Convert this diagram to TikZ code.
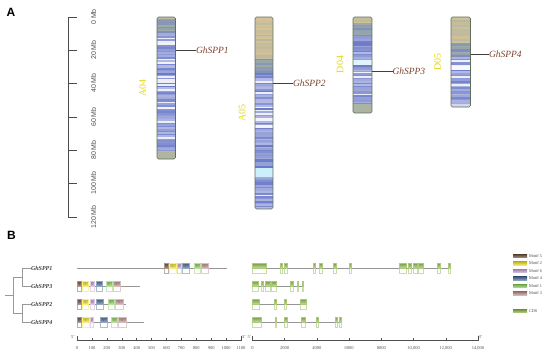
\documentclass[tikz,border=0pt]{standalone}
\usepackage{fontspec}
\setmainfont{Liberation Serif}
\setsansfont{Liberation Sans}
\definecolor{chrblue}{RGB}{105,120,200}
\definecolor{chrtan}{RGB}{215,195,150}
\definecolor{chrsage}{RGB}{160,175,165}
\definecolor{chrout}{RGB}{95,110,95}
\definecolor{genelbl}{RGB}{125,65,45}
\definecolor{chrlbl}{RGB}{228,215,25}
\definecolor{mfive}{RGB}{110,80,60}
\definecolor{mtwo}{RGB}{240,228,40}
\definecolor{msix}{RGB}{200,160,215}
\definecolor{mfour}{RGB}{75,110,150}
\definecolor{mone}{RGB}{140,205,90}
\definecolor{mthree}{RGB}{190,145,145}
\definecolor{cdsg}{RGB}{135,180,65}
\definecolor{axgray}{RGB}{80,80,80}
\definecolor{lngray}{RGB}{150,150,150}
\newcommand\chrom[7]{%
  \begin{scope}
  \clip[rounded corners=1.5pt] (#1,#3) rectangle (#2,#4);
  \fill[chrblue!70!white] (#1,#3) rectangle (#2,#4);
  \pgfmathsetseed{#6}
  \pgfmathtruncatemacro\nb{(#4-#3)/1.6}
  \foreach \i in {0,...,\nb}{
    \pgfmathsetmacro\ya{#3+\i*1.6}
    \pgfmathsetmacro\yb{\ya+1.7}
    \pgfmathtruncatemacro\pp{rnd<0.08 ? 12 : 50+50*rnd}
    \pgfmathtruncatemacro\qq{40+60*rnd}
    \pgfmathsetmacro\ye{#5+14}
    \ifdim\ya pt<#5pt
      \fill[chrtan!\qq!chrsage] (#1,\ya) rectangle (#2,\yb);
    \else
      \ifdim\ya pt<\ye pt
        \fill[chrsage!\qq!chrblue] (#1,\ya) rectangle (#2,\yb);
      \else
        \fill[chrblue!\pp!white] (#1,\ya) rectangle (#2,\yb);
      \fi
    \fi
  }
  #7
  \end{scope}
  \draw[chrout, line width=0.6pt, rounded corners=1.5pt] (#1,#3) rectangle (#2,#4);
}
\newcommand\motifbox[5]{%
  \filldraw[fill=white, draw=#4!45!white, line width=0.3pt] (#1,#3+0.5) rectangle (#2,#3+5.5);
  \shade[top color=#4!80!black, bottom color=#4!55!white] (#1,#3-5) rectangle (#2,#3+0.5);
  \draw[#4!60!white, line width=0.3pt] (#1,#3-5) rectangle (#2,#3+0.5);
  \node[font=\fontsize{2.5}{3}\selectfont, text=black!70] at ({(#1+#2)/2},#3-1.5) {#5};
}
\newcommand\exonbox[3]{%
  \filldraw[fill=white, draw=cdsg!45!white, line width=0.3pt] (#1,#3+0.5) rectangle (#2,#3+5.5);
  \shade[top color=cdsg!85!black, bottom color=cdsg!40!white] (#1,#3-5) rectangle (#2,#3+0.5);
  \draw[cdsg!70!white, line width=0.3pt] (#1,#3-5) rectangle (#2,#3+0.5);
}
\begin{document}
\begin{tikzpicture}[x=1pt,y=-1pt,
  every node/.style={inner sep=0pt, outer sep=0pt},
  panel/.style={font=\sffamily\bfseries\fontsize{12}{14}\selectfont},
  scalelab/.style={font=\sffamily\fontsize{7}{8}\selectfont, text=axgray, rotate=90},
  chrlab/.style={font=\fontsize{10}{12}\selectfont, text=chrlbl, rotate=90},
  genelab/.style={font=\itshape\fontsize{9.5}{11}\selectfont, text=genelbl, anchor=west},
  geneline/.style={draw=black!75, line width=0.5pt},
  treeline/.style={draw=black!40, line width=0.6pt},
  leaflab/.style={font=\bfseries\itshape\fontsize{6}{7}\selectfont, text=black!75, anchor=west},
  seqline/.style={draw=lngray, line width=0.7pt},
  axisline/.style={draw=axgray, line width=0.45pt},
  ticklab/.style={font=\fontsize{4.5}{5}\selectfont, text=axgray},
  leglab/.style={font=\fontsize{4.3}{5}\selectfont, text=axgray, anchor=west}]
\useasboundingbox (0,0) rectangle (550,357);
% ---------- Panel A ----------
\node[panel] (pA) at (11,12.5) {A};
\draw[axisline, draw=black!70, line width=0.6pt] (68,17) -- (68,217);
\foreach \t/\l [count=\k] in {17/0 Mb,50/20 Mb,83/40 Mb,117/60 Mb,150/80 Mb,183/100 Mb,217/120 Mb}{
  \draw[draw=black!70, line width=0.6pt] (68,\t) -- (77,\t);
  \node[scalelab] (sc\k) at (93.5,\t) {\l};
}
% chromosomes
\chrom{157}{175.5}{17}{159}{18}{11}{%
  \fill[chrsage!70!chrtan] (157,152) rectangle (175.5,159);
  \fill[chrblue!10!white] (157,43) rectangle (175.5,45);
  \fill[chrblue!10!white] (157,62) rectangle (175.5,64);
  \fill[chrblue!10!white] (157,107) rectangle (175.5,108.5);
}
\chrom{255}{273}{17}{209}{58}{23}{%
  \fill[chrblue!8!white] (255,118) rectangle (273,121);
  \fill[chrblue!8!white] (255,125) rectangle (273,127.5);
  \fill[cyan!20!white] (255,168) rectangle (273,177);
  \fill[chrblue!70!white] (255,162) rectangle (273,166);
}
\chrom{353}{372}{17}{113}{22}{37}{%
  \fill[cyan!12!white] (353,60) rectangle (372,65);
  \fill[chrblue!8!white] (353,71.5) rectangle (372,73);
  \fill[chrsage!80!chrtan] (353,104) rectangle (372,113);
}
\chrom{451}{470.5}{17}{107}{42}{41}{%
  \fill[chrblue!5!white] (451,66) rectangle (470.5,70);
  \fill[chrblue!30!white] (451,104) rectangle (470.5,107);
}
% chromosome labels
\node[chrlab] (cA04) at (142.5,88) {A04};
\node[chrlab] (cA05) at (242,113) {A05};
\node[chrlab] (cD04) at (340,64.5) {D04};
\node[chrlab] (cD05) at (437.5,62) {D05};
% gene labels
\coordinate (p1) at (175.5,50);
\coordinate (p2) at (273,83);
\coordinate (p3) at (372,71);
\coordinate (p4) at (470.5,54.5);
\node[genelab] (g1) at (196,50) {GhSPP1};
\node[genelab] (g2) at (293,83) {GhSPP2};
\node[genelab] (g3) at (392.5,71) {GhSPP3};
\node[genelab] (g4) at (489,54.5) {GhSPP4};
\draw[geneline] (p1) -- (g1.west);
\draw[geneline] (p2) -- (g2.west);
\draw[geneline] (p3) -- (g3.west);
\draw[geneline] (p4) -- (g4.west);
% ---------- Panel B ----------
\node[panel] (pB) at (11.5,235) {B};
% tree
\coordinate (root) at (5,295);
\coordinate (n0) at (13,295);
\coordinate (na) at (13,277);
\coordinate (nb) at (13,313);
\coordinate (a1) at (22,277);
\coordinate (b1) at (22,313);
\node[leaflab] (t1) at (31,268) {GhSPP1};
\node[leaflab] (t3) at (31,286) {GhSPP3};
\node[leaflab] (t2) at (31,304) {GhSPP2};
\node[leaflab] (t4) at (31,322) {GhSPP4};
\draw[treeline] (root) -- (n0);
\draw[treeline] (na) -- (nb);
\draw[treeline] (na) -- (a1);
\draw[treeline] (nb) -- (b1);
\draw[treeline] (22,268) -- (22,286);
\draw[treeline] (22,304) -- (22,322);
\draw[treeline] (22,268) -- (t1.west);
\draw[treeline] (22,286) -- (t3.west);
\draw[treeline] (22,304) -- (t2.west);
\draw[treeline] (22,322) -- (t4.west);
% protein lines
\draw[seqline] (77,268) -- (227,268);
\draw[seqline] (77,286) -- (140,286);
\draw[seqline] (77,304) -- (126,304);
\draw[seqline] (77,322) -- (144,322);
% motifs SPP1
\motifbox{164}{168.5}{268}{mfive}{5}
\motifbox{169}{176}{268}{mtwo}{2}
\motifbox{177}{181}{268}{msix}{6}
\motifbox{182}{189}{268}{mfour}{4}
\motifbox{194}{200}{268}{mone}{1}
\motifbox{201}{208}{268}{mthree}{3}
% SPP3
\motifbox{77}{81.5}{286}{mfive}{5}
\motifbox{82}{88.5}{286}{mtwo}{2}
\motifbox{90}{94}{286}{msix}{6}
\motifbox{96}{102.5}{286}{mfour}{4}
\motifbox{106}{112}{286}{mone}{1}
\motifbox{113}{120}{286}{mthree}{3}
% SPP2
\motifbox{77}{81.5}{304}{mfive}{5}
\motifbox{82}{88.5}{304}{mtwo}{2}
\motifbox{90}{94}{304}{msix}{6}
\motifbox{96}{103}{304}{mfour}{4}
\motifbox{108}{114}{304}{mone}{1}
\motifbox{115}{123}{304}{mthree}{3}
% SPP4
\motifbox{77}{81.5}{322}{mfive}{5}
\motifbox{82}{89}{322}{mtwo}{2}
\motifbox{90}{93.5}{322}{msix}{6}
\motifbox{100}{107}{322}{mfour}{4}
\motifbox{111}{117.5}{322}{mone}{1}
\motifbox{118}{126}{322}{mthree}{3}
% gene lines
\draw[seqline] (252.5,268) -- (450,268);
\draw[seqline] (252.5,286) -- (303.5,286);
\draw[seqline] (252.5,304) -- (306,304);
\draw[seqline] (252.5,322) -- (341,322);
\foreach \a/\b in {252.5/266,280/282.5,284/287,313/315,319/322,333/336.5,349/351,399/406,408/411,413/417,418/423,437/440,448/450}{\exonbox{\a}{\b}{268}}
\foreach \a/\b in {252.5/258.5,261/263,265.5/270,271/276,290/293,297/298.5,302/303.5}{\exonbox{\a}{\b}{286}}
\foreach \a/\b in {252.5/259,274/276,284/286.5,300/306}{\exonbox{\a}{\b}{304}}
\foreach \a/\b in {252.5/261,275/276.5,284/287,301/305,316/318.5,335/337,339/341}{\exonbox{\a}{\b}{322}}
% protein axis
\draw[axisline] (77,340) -- (241,340);
\draw[axisline] (77,336) -- (77,341);
\draw[axisline] (241,336) -- (241,341);
\foreach \i in {0,...,11}{
  \pgfmathsetmacro\xx{77+\i*14.909}
  \pgfmathtruncatemacro\vv{\i*100}
  \draw[axisline] (\xx,337.5) -- (\xx,340);
  \node[ticklab] (pt\i) at (\xx,348.5) {\vv};
}
\node[ticklab] (p5) at (73,337.5) {5'};
\node[ticklab] (p3e) at (244,337.5) {3'};
% gene axis
\draw[axisline] (252.5,340) -- (478,340);
\draw[axisline] (252.5,336) -- (252.5,341);
\draw[axisline] (478,336) -- (478,341);
\foreach \i/\l in {0/0,1/2000,2/4000,3/6000,4/8000,5/{10,000},6/{12,000},7/{14,000}}{
  \pgfmathsetmacro\xx{252.5+\i*32.214}
  \draw[axisline] (\xx,337.5) -- (\xx,340);
  \node[ticklab] (gt\i) at (\xx,348.5) {\l};
}
\node[ticklab] (g5) at (249.5,337.5) {5'};
\node[ticklab] (g3e) at (480.5,337.5) {3'};
% legend
\foreach \c/\l/\y [count=\k] in {mfive/Motif 5/256,mtwo/Motif 2/263.5,msix/Motif 6/271,mfour/Motif 4/278.5,mone/Motif 1/286,mthree/Motif 3/293.5,cdsg/CDS/311}{
  \shade[top color=\c!80!black, bottom color=\c!60!white] (513,\y-1.8) rectangle (527,\y+1.8);
  \node[leglab] (lg\k) at (529,\y) {\l};
}
\end{tikzpicture}
\end{document}
